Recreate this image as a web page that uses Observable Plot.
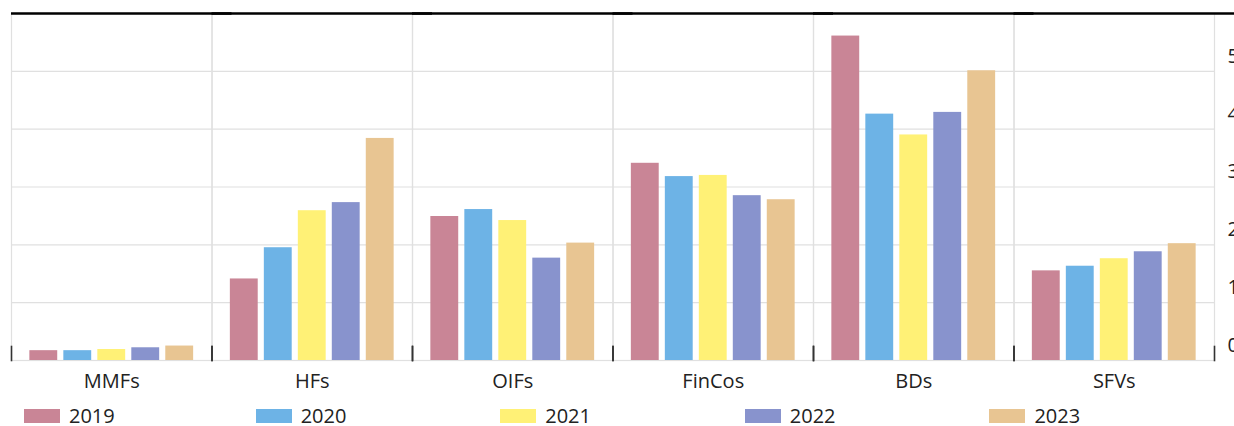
<!DOCTYPE html>
<html>
<head>
<meta charset="utf-8">
<script src="https://cdn.jsdelivr.net/npm/d3@7"></script>
<script src="https://cdn.jsdelivr.net/npm/@observablehq/plot@0.6"></script>
<style>
  html, body { margin: 0; padding: 0; background: white; overflow: hidden; }
  #chart svg { display: block; max-width: none; }
  #legend { display: flex; margin-top: 5px; padding-left: 24px; font-family: "Open Sans", sans-serif; font-size: 20px; color: #222; line-height: 26px; }
  #legend .item { display: flex; align-items: center; width: 246px; }
  #legend .item:first-child { width: 233px; }
  #legend .sw { width: 36px; height: 14px; margin-right: 9px; }
</style>
</head>
<body>
<div id="chart"></div>
<div id="legend"></div>
<script>
const categories = ["MMFs", "HFs", "OIFs", "FinCos", "BDs", "SFVs"];
const years = ["2019", "2020", "2021", "2022", "2023"];
const v2019 = [0.17, 1.41, 2.49, 3.41, 5.61, 1.55];
const v2020 = [0.17, 1.95, 2.61, 3.18, 4.26, 1.63];
const v2021 = [0.19, 2.59, 2.42, 3.20, 3.90, 1.76];
const v2022 = [0.22, 2.73, 1.77, 2.85, 4.29, 1.88];
const v2023 = [0.25, 3.84, 2.03, 2.78, 5.01, 2.02];
const colors = ["#c98596", "#6db3e6", "#fff176", "#8893cd", "#e8c592"];
const yTicks = [0, 1, 2, 3, 4, 5];

const series = [v2019, v2020, v2021, v2022, v2023];
const data = [];
categories.forEach((cat, i) => {
  years.forEach((yr, j) => data.push({cat, year: yr, value: series[j][i]}));
});

const chart = Plot.plot({
  width: 1234,
  height: 398,
  marginLeft: 11,
  marginRight: 20,
  marginTop: 13,
  marginBottom: 38,
  style: {fontFamily: "Open Sans, sans-serif", fontSize: "20px", color: "#222", background: "white", overflow: "visible"},
  fx: {domain: categories, padding: 0, round: false, label: null},
  x: {domain: years, paddingInner: 0.18, paddingOuter: 0.54, round: false, axis: null},
  y: {domain: [0, 6], axis: null},
  color: {domain: years, range: colors},
  marks: [
    Plot.gridY(yTicks, {stroke: "#e0e0e0", strokeOpacity: 1, strokeWidth: 1.2}),
    Plot.frame({stroke: "#e0e0e0", strokeWidth: 1.2}),
    Plot.barY(data, {fx: "cat", x: "year", y: "value", fill: "year"}),
    Plot.frame({anchor: "left", stroke: "#333", strokeWidth: 1.6, insetTop: 333}),
    Plot.frame({anchor: "right", stroke: "#333", strokeWidth: 1.6, insetTop: 333}),
    Plot.ruleY([6], {stroke: "black", strokeWidth: 2.5, insetRight: -20}),
    Plot.axisFx({anchor: "bottom", tickSize: 0, tickPadding: 13, label: null, fontSize: 20}),
    Plot.axisY(yTicks, {anchor: "right", tickSize: 0, tickPadding: 13, dy: -15, textAnchor: "start", label: null, fontSize: 20})
  ]
});
document.getElementById("chart").appendChild(chart);

const color = chart.scale("color");
const legend = document.getElementById("legend");
years.forEach(yr => {
  const item = document.createElement("div");
  item.className = "item";
  const sw = document.createElement("div");
  sw.className = "sw";
  sw.style.background = color.apply(yr);
  const lab = document.createElement("span");
  lab.textContent = yr;
  item.appendChild(sw);
  item.appendChild(lab);
  legend.appendChild(item);
});
</script>
</body>
</html>
